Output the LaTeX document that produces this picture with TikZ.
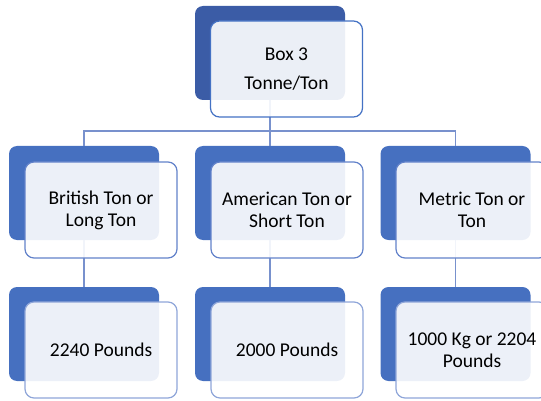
\documentclass[tikz,border=0pt]{standalone}
\usepackage{fontspec}
\setmainfont{Carlito}
\definecolor{topblue}{RGB}{59,92,166}
\definecolor{midblue}{RGB}{70,112,192}
\definecolor{edgetop}{RGB}{68,114,196}
\definecolor{edgemid}{RGB}{98,130,202}
\definecolor{edgelow}{RGB}{143,166,217}
\definecolor{linkblue}{RGB}{120,145,205}
\begin{document}
\begin{tikzpicture}[x=1pt,y=-1pt,
  back/.style={fill=#1, rounded corners=8pt, minimum width=150pt, minimum height=94pt, inner sep=0pt},
  front/.style={draw=#1, line width=1.2pt, fill=white, fill opacity=0.9, text opacity=1, rounded corners=9pt, minimum width=152pt, minimum height=96pt, align=center, inner sep=0pt, font=\fontsize{19.5}{22}\selectfont},
  link/.style={draw=linkblue, line width=1.2pt}]
\useasboundingbox (0,0) rectangle (541,401);

% back plates
\node[back=topblue] (top) at (270,53) {};
\node[back=midblue] (british) at (84,193) {};
\node[back=midblue] (american) at (270,193) {};
\node[back=midblue] (metric) at (455.5,193) {};
\node[back=midblue] (britishval) at (84,334) {};
\node[back=midblue] (americanval) at (270,334) {};
\node[back=midblue] (metricval) at (455.5,334) {};

% connectors
\coordinate (hub) at (270,131);
\draw[link] (top.south) -- (hub);
\draw[link] (hub) -| (british.north);
\draw[link] (hub) -- (american.north);
\draw[link] (hub) -| (metric.north);
\draw[link] (british.south) -- (britishval.north);
\draw[link] (american.south) -- (americanval.north);
\draw[link] (metric.south) -- (metricval.north);

% front cards
\node[front=edgetop] (toptext) at (286.5,69) {Box 3\\[7pt]Tonne/Ton};
\node[front=edgemid] (britishtext) at (101,210) {British Ton or\\Long Ton};
\node[front=edgemid] (americantext) at (287,210) {American Ton or\\Short Ton};
\node[front=edgemid] (metrictext) at (472,210) {Metric Ton or\\Ton};
\node[front=edgelow] (britishvaltext) at (101,350) {2240 Pounds};
\node[front=edgelow] (americanvaltext) at (287,350) {2000 Pounds};
\node[front=edgelow] (metricvaltext) at (472,350) {1000 Kg or 2204\\Pounds};
\end{tikzpicture}
\end{document}
